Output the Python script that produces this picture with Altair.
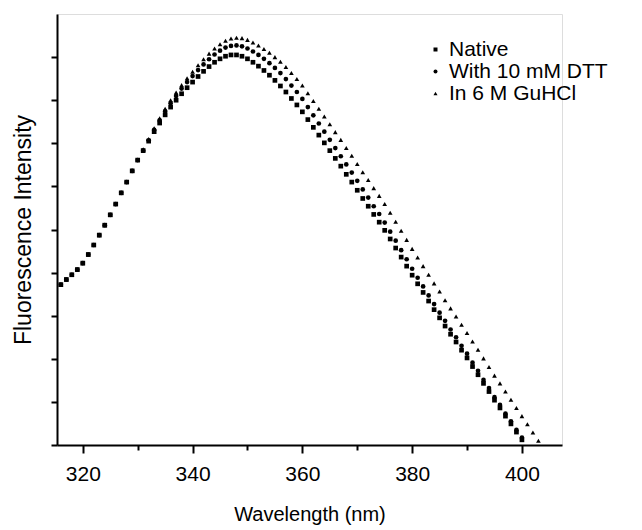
import altair as alt
import pandas as pd

start_nm = 316
series_names = ["Native", "With 10 mM DTT", "In 6 M GuHCl"]

native = [3.72, 3.84, 3.95, 4.07, 4.22, 4.42, 4.64, 4.87, 5.10, 5.34,
          5.59, 5.85, 6.10, 6.36, 6.61, 6.83, 7.05, 7.27, 7.47, 7.66,
          7.84, 8.00, 8.15, 8.29, 8.42, 8.55, 8.67, 8.78, 8.88, 8.96,
          9.02, 9.05, 9.05, 9.02, 8.96, 8.88, 8.79, 8.69, 8.58, 8.46,
          8.33, 8.19, 8.04, 7.89, 7.73, 7.55, 7.37, 7.19, 7.01, 6.83,
          6.65, 6.47, 6.28, 6.10, 5.91, 5.72, 5.54, 5.35, 5.17, 4.98,
          4.78, 4.57, 4.36, 4.15, 3.94, 3.74, 3.54, 3.34, 3.14, 2.95,
          2.76, 2.57, 2.39, 2.20, 2.02, 1.82, 1.63, 1.43, 1.24, 1.04,
          0.86, 0.67, 0.49, 0.30, 0.12]

dtt = [3.72, 3.84, 3.95, 4.07, 4.22, 4.42, 4.64, 4.87, 5.10, 5.34,
       5.59, 5.85, 6.10, 6.36, 6.61, 6.83, 7.07, 7.31, 7.53, 7.74,
       7.93, 8.10, 8.27, 8.42, 8.56, 8.70, 8.83, 8.95, 9.06, 9.15,
       9.22, 9.26, 9.27, 9.25, 9.20, 9.13, 9.05, 8.96, 8.86, 8.75,
       8.63, 8.49, 8.34, 8.19, 8.03, 7.84, 7.65, 7.46, 7.27, 7.08,
       6.89, 6.70, 6.51, 6.32, 6.13, 5.93, 5.74, 5.54, 5.36, 5.16,
       4.95, 4.74, 4.52, 4.31, 4.09, 3.88, 3.68, 3.47, 3.27, 3.07,
       2.88, 2.68, 2.50, 2.30, 2.12, 1.91, 1.72, 1.51, 1.32, 1.11,
       0.93, 0.73, 0.55, 0.35, 0.17]

guhcl = [3.72, 3.84, 3.95, 4.07, 4.22, 4.42, 4.64, 4.87, 5.10, 5.34,
         5.59, 5.85, 6.10, 6.36, 6.62, 6.86, 7.10, 7.35, 7.58, 7.80,
         8.00, 8.18, 8.35, 8.51, 8.66, 8.81, 8.95, 9.08, 9.20, 9.30,
         9.38, 9.43, 9.45, 9.44, 9.40, 9.34, 9.27, 9.19, 9.10, 9.00,
         8.89, 8.77, 8.63, 8.49, 8.34, 8.16, 7.98, 7.80, 7.62, 7.44,
         7.26, 7.08, 6.89, 6.71, 6.52, 6.33, 6.15, 5.96, 5.78, 5.59,
         5.39, 5.18, 4.97, 4.76, 4.55, 4.35, 4.15, 3.95, 3.75, 3.56,
         3.36, 3.17, 2.98, 2.79, 2.60, 2.40, 2.21, 2.01, 1.81, 1.61,
         1.43, 1.24, 1.05, 0.86, 0.67, 0.48, 0.29, 0.10]

x_ticks = [320, 330, 340, 350, 360, 370, 380, 390, 400]
y_ticks = [0, 1, 2, 3, 4, 5, 6, 7, 8, 9]

rows = []
for name, vals in zip(series_names, [native, dtt, guhcl]):
    for i, v in enumerate(vals):
        rows.append({"wavelength": start_nm + i, "intensity": v, "sample": name})
df = pd.DataFrame(rows)

FONT = "Liberation Sans"

chart = alt.Chart(df).mark_point(filled=True, opacity=1, color="black", size=22).encode(
    x=alt.X("wavelength:Q",
            scale=alt.Scale(domain=[315.3, 407.3], nice=False, zero=False),
            axis=alt.Axis(title="Wavelength (nm)", values=x_ticks,
                          labelExpr="datum.value % 20 == 0 ? datum.label : ''",
                          tickSize={"condition": {"test": "datum.value % 20 == 0", "value": 8}, "value": 5},
                          grid=False, labelFontSize=21, titleFontSize=20,
                          labelPadding=10, titlePadding=20, labelFont=FONT, titleFont=FONT,
                          titleFontWeight="normal", labelColor="black", titleColor="black",
                          domainColor="black", tickColor="black", domainWidth=2, tickWidth=2)),
    y=alt.Y("intensity:Q",
            scale=alt.Scale(domain=[0, 10], nice=False),
            axis=alt.Axis(title="Fluorescence Intensity", values=y_ticks, labels=False,
                          tickSize=6, grid=False, titleFontSize=23, titleFont=FONT,
                          titleFontWeight="normal", titleColor="black", titlePadding=15,
                          domainColor="black", tickColor="black", domainWidth=2, tickWidth=2)),
    shape=alt.Shape("sample:N",
                    scale=alt.Scale(domain=series_names, range=["square", "circle", "triangle-up"]),
                    legend=alt.Legend(title=None, orient="none", legendX=368, legendY=25,
                                      labelFontSize=21, labelFont=FONT, labelColor="black",
                                      symbolSize=16, symbolFillColor="black", symbolStrokeColor="black",
                                      symbolStrokeWidth=0, labelOffset=3, rowPadding=0, padding=0)),
).properties(
    width=505, height=431,
    autosize=alt.AutoSizeParams(type="none"),
    padding={"left": 49, "top": 6, "right": 72, "bottom": 85},
).configure_view(stroke=None).configure(background="white")

chart.save("out.html", embed_options={"renderer": "svg", "actions": False})
